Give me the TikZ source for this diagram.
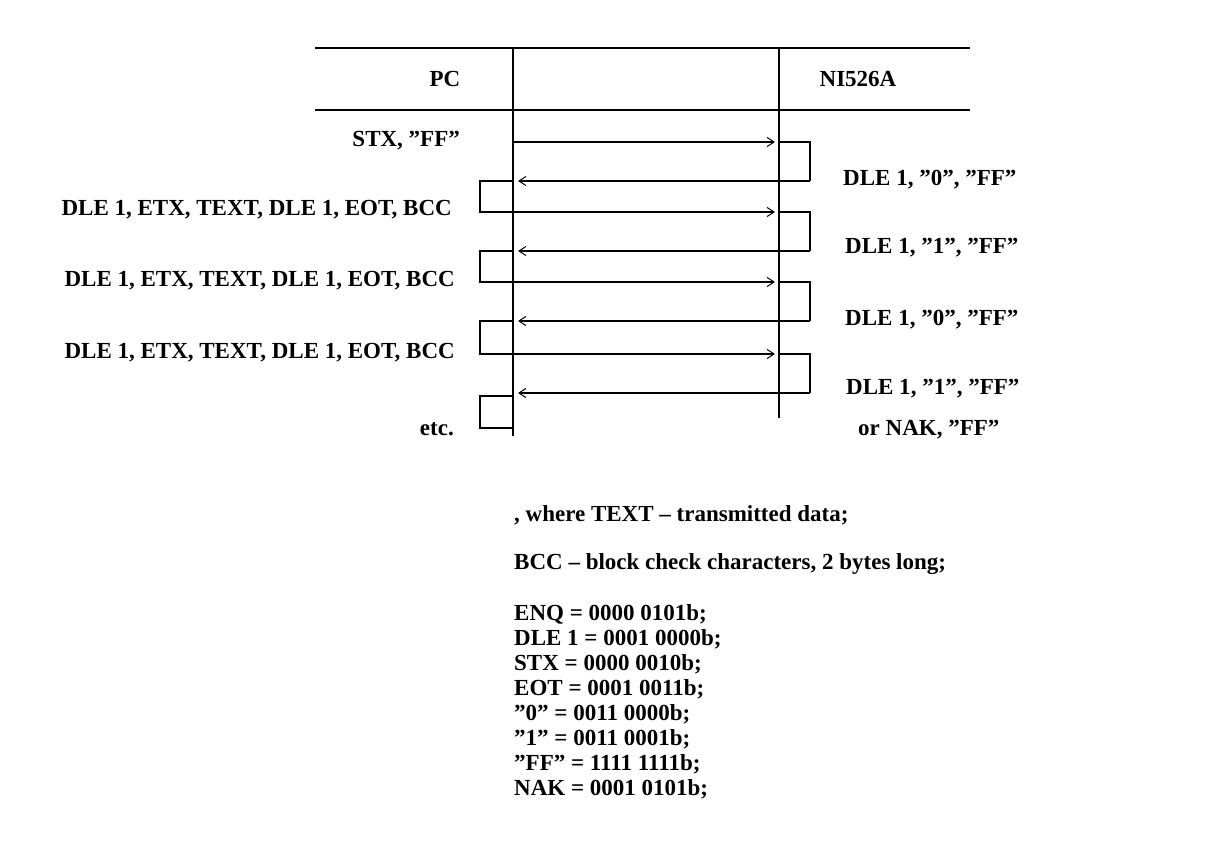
\documentclass[tikz,border=0pt]{standalone}
\usepackage{fontspec}
\setmainfont{Liberation Serif}[Ligatures=ResetAll]
\usetikzlibrary{arrows.meta}
\newcommand\dq{{\char34}}
\begin{document}
\begin{tikzpicture}[x=1pt,y=-1pt,
  ln/.style={line width=2pt},
  msg/.style={line width=1.3pt,-{Straight Barb[length=7pt,width=9pt,line width=1pt]}},
  br/.style={line width=2pt},
  lbl/.style={font=\fontsize{23}{27}\selectfont\bfseries,inner sep=0pt},
  every node/.style={lbl}]
\useasboundingbox[fill=white] (0,0) rectangle (1212,848);
\coordinate (t1) at (315,48); \coordinate (t2) at (970,48);
\coordinate (h1) at (315,110); \coordinate (h2) at (970,110);
\draw[ln] (t1) -- (t2); \draw[ln] (h1) -- (h2);
\coordinate (pcT) at (513,48); \coordinate (pcB) at (513,436);
\coordinate (niT) at (779,48); \coordinate (niB) at (779,418);
\draw[ln] (pcT) -- (pcB); \draw[ln] (niT) -- (niB);
\node (pc) at (445,79) {PC};
\node (ni) at (858,79) {NI526A};
% messages
\foreach \ya/\yb/\i in {142/181/1,212/251/2,282/321/3,354/393/4}{
  \coordinate (ra\i) at (779,\ya); \coordinate (rb\i) at (810,\ya);
  \coordinate (rc\i) at (810,\yb); \coordinate (rd\i) at (518,\yb);
  \draw[br] (ra\i) -- (rb\i) -- (rc\i);
  \draw[msg] (rc\i) -- (rd\i);
}
\coordinate (s0) at (513,142); \coordinate (e0) at (775,142);
\draw[msg] (s0) -- (e0);
\foreach \ya/\yb/\i in {181/212/1,251/282/2,321/354/3}{
  \coordinate (la\i) at (513,\ya); \coordinate (lb\i) at (480,\ya);
  \coordinate (lc\i) at (480,\yb); \coordinate (ld\i) at (513,\yb);
  \coordinate (le\i) at (775,\yb);
  \draw[br] (la\i) -- (lb\i) -- (lc\i) -- (ld\i);
  \draw[msg] (ld\i) -- (le\i);
}
\coordinate (la4) at (513,396); \coordinate (lb4) at (480,396);
\coordinate (lc4) at (480,428); \coordinate (ld4) at (513,428);
\draw[br] (la4) -- (lb4) -- (lc4) -- (ld4);
% labels
\node[anchor=east] (l0) at (460,141) {STX, \dq FF\dq};
\node[anchor=east] (l1) at (452,210) {DLE 1, ETX, TEXT, DLE 1, EOT, BCC};
\node[anchor=east] (l2) at (455,281) {DLE 1, ETX, TEXT, DLE 1, EOT, BCC};
\node[anchor=east] (l3) at (455,353) {DLE 1, ETX, TEXT, DLE 1, EOT, BCC};
\node[anchor=east] (l4) at (454,429) {etc.};
\node[anchor=west] (r1) at (843,180) {DLE 1, \dq 0\dq, \dq FF\dq};
\node[anchor=west] (r2) at (845,248) {DLE 1, \dq 1\dq, \dq FF\dq};
\node[anchor=west] (r3) at (845,320) {DLE 1, \dq 0\dq, \dq FF\dq};
\node[anchor=west] (r4) at (846,389) {DLE 1, \dq 1\dq, \dq FF\dq};
\node[anchor=west] (r5) at (858,430) {or NAK, \dq FF\dq};
% legend
\node[anchor=west] (g1) at (514,515) {, where TEXT – transmitted data;};
\node[anchor=west] (g2) at (514,564) {BCC – block check characters, 2 bytes long;};
\node[anchor=west] (g3) at (514,614) {ENQ = 0000 0101b;};
\node[anchor=west] (g4) at (514,639) {DLE 1 = 0001 0000b;};
\node[anchor=west] (g5) at (514,664) {STX = 0000 0010b;};
\node[anchor=west] (g6) at (514,689) {EOT = 0001 0011b;};
\node[anchor=west] (g7) at (514,714) {\dq 0\dq{} = 0011 0000b;};
\node[anchor=west] (g8) at (514,739) {\dq 1\dq{} = 0011 0001b;};
\node[anchor=west] (g9) at (514,764) {\dq FF\dq{} = 1111 1111b;};
\node[anchor=west] (g10) at (514,789) {NAK = 0001 0101b;};
\end{tikzpicture}
\end{document}
